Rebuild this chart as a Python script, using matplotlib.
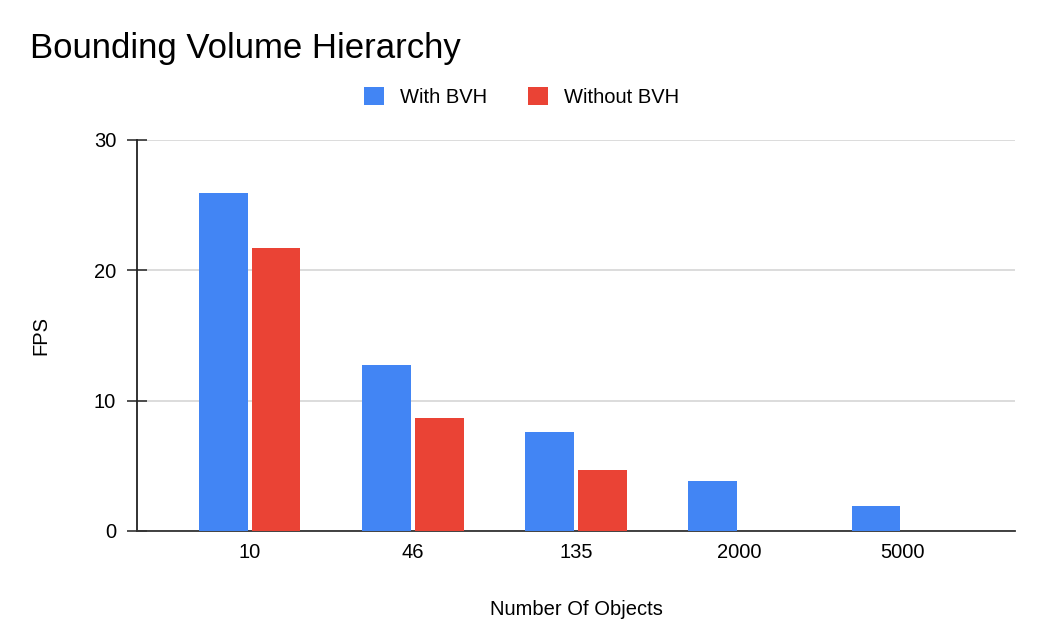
import numpy as np
import matplotlib.pyplot as plt

plt.rcParams['font.family'] = ['Liberation Sans', 'DejaVu Sans']

# data
objects = ['10', '46', '135', '2000', '5000']
with_bvh = [25.9, 12.7, 7.6, 3.8, 1.9]
without_bvh = [21.7, 8.7, 4.7, 0, 0]

blue = '#4285F4'
red = '#EA4335'

fig = plt.figure(figsize=(10.43, 6.43), dpi=100)
ax = fig.add_axes([0.1313, 0.1742, 0.8419, 0.6081])

x = np.arange(len(objects))
w = 0.30
gap = 0.012
ax.bar(x - w / 2 - gap, with_bvh, w, color=blue, label='With BVH', zorder=3)
ax.bar(x + w / 2 + gap, without_bvh, w, color=red, label='Without BVH', zorder=3)

ax.set_xlim(-0.69, 4.69)
ax.set_ylim(0, 30)
ax.set_yticks([0, 10, 20, 30])
ax.set_xticks(x)
ax.set_xticklabels(objects)
ax.tick_params(axis='y', direction='inout', length=15, width=1.2, labelsize=14.5, pad=7.5, color='#333333')
ax.tick_params(axis='x', length=0, labelsize=14.5, pad=9)
ax.grid(axis='y', color='#d5d5d5', linewidth=1.2, zorder=0)

for s in ['top', 'right']:
    ax.spines[s].set_visible(False)
ax.spines['left'].set_color('#222222')
ax.spines['left'].set_linewidth(1.3)
ax.spines['bottom'].set_color('#333333')
ax.spines['bottom'].set_linewidth(1.3)

ax.set_xlabel('Number Of Objects', fontsize=14.5, labelpad=27)
ax.set_ylabel('FPS', fontsize=14.5, labelpad=31)

fig.text(0.029, 0.924, 'Bounding Volume Hierarchy', fontsize=25, va='center', ha='left')

fig.legend(loc='center', bbox_to_anchor=(0.5, 0.849), ncol=2, frameon=False,
           fontsize=14.5, handlelength=1.0, handleheight=1.0, columnspacing=2.0,
           handletextpad=0.8)

fig.savefig('out.png', dpi=100)
